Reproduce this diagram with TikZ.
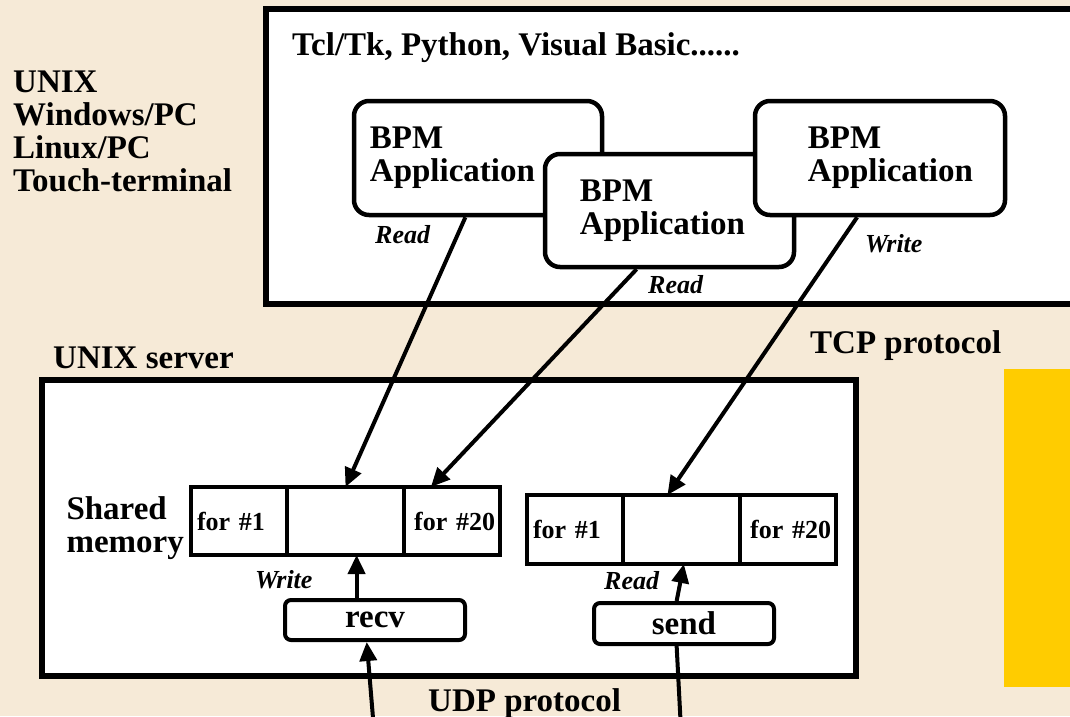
\documentclass[tikz,border=0pt]{standalone}
\usepackage{fontspec}
\setmainfont{Liberation Serif}
\usetikzlibrary{arrows.meta,calc,positioning}
\definecolor{parchment}{RGB}{246,234,215}
\definecolor{marker}{RGB}{255,204,0}

\begin{document}
\begin{tikzpicture}[x=1pt,y=-1pt,
  frame/.style={draw,line width=6pt,fill=white},
  appbox/.style={draw,line width=4.5pt,fill=white,rounded corners=15pt,minimum width=248pt,minimum height=114pt},
  apptext/.style={font=\fontsize{33}{33}\selectfont\bfseries,align=left,inner sep=0pt,anchor=west},
  cell/.style={draw,line width=4pt,fill=white,minimum height=68pt,outer sep=0pt,inner sep=0pt,font=\fontsize{26}{26}\selectfont\bfseries},
  lcell/.style={cell,text width=84pt,align=left},
  rcell/.style={cell,text width=86pt,align=right},
  procbox/.style={draw,line width=4pt,fill=white,rounded corners=6pt,minimum width=180pt,minimum height=40pt,font=\fontsize{33}{33}\selectfont\bfseries},
  bigtext/.style={font=\fontsize{33}{33}\selectfont\bfseries,align=left,inner sep=0pt},
  rw/.style={font=\fontsize{26}{26}\selectfont\bfseries\itshape,inner sep=0pt,anchor=base west},
  arr/.style={line width=4pt,-{Triangle[length=19pt,width=17pt]}},
  wire/.style={line width=4pt}]
  \useasboundingbox (0,0) rectangle (1070,716);
  \clip (0,0) rectangle (1070,716);
  \fill[parchment] (0,0) rectangle (1070,716);
  \fill[marker] (1004,369) rectangle (1080,687);

  % clients
  \draw[frame] (266,9) rectangle (1090,304);
  \node[bigtext,anchor=base west] (lang) at (292,55) {Tcl/Tk, Python, Visual Basic......};
  \node[bigtext,anchor=north west] (os) at (13,71) {UNIX\\Windows/PC\\Linux/PC\\Touch-terminal};
  \node[appbox,label={[apptext,xshift=18pt]west:{BPM\\Application}}] (app1) at (478,158) {};
  \node[appbox,minimum width=249pt,minimum height=113pt,label={[apptext,xshift=37pt]west:{BPM\\Application}}] (app2) at (669.5,210.5) {};
  \node[appbox,minimum width=250pt,label={[apptext,xshift=55pt]west:{BPM\\Application}}] (app3) at (880,158) {};
  \node[rw] (rd1) at (375,243) {Read};
  \node[rw] (rd2) at (648,293) {Read};
  \node[rw] (wr1) at (865,252) {Write};
  \node[bigtext,anchor=base west] (tcp) at (810,353) {TCP protocol};

  % server
  \node[bigtext,anchor=base west] (srv) at (53,368) {UNIX server};
  \draw[frame] (42,380) rectangle (856,676);
  \node[lcell,minimum width=96pt] (m1a) at (239,521) {for \#1};
  \node[cell,minimum width=117pt,right=0pt of m1a] (m1b) {};
  \node[rcell,minimum width=96pt,right=0pt of m1b] (m1c) {for \#20};
  \node[bigtext,left=7pt of m1a,yshift=-7pt] (shm) {Shared\\memory};
  \node[lcell,minimum width=96pt,minimum height=69pt] (m2a) at (575,529.5) {for \#1};
  \node[cell,minimum width=117pt,minimum height=69pt,right=0pt of m2a] (m2b) {};
  \node[rcell,minimum width=96pt,minimum height=69pt,right=0pt of m2b] (m2c) {for \#20};
  \node[procbox] (recv) at (375,620) {recv};
  \node[procbox,minimum height=41pt] (send) at (684,623.5) {send};
  \node[rw] (wr2) at (255,588) {Write};
  \node[rw] (rd3) at (604,589) {Read};
  \node[bigtext,anchor=base west] (udp) at (428,711) {UDP protocol};

  % connections
  \draw[arr] ($(app1.south west)!0.45!(app1.south east)$) -- (m1b.north);
  \draw[arr] ($(app2.south west)!0.37!(app2.south east)$) -- ($(m1c.north west)!0.28!(m1c.north east)$);
  \draw[arr] ($(app3.south west)!0.41!(app3.south east)$) -- ($(m2b.north west)!0.38!(m2b.north east)$);
  \coordinate (rtop) at ($(recv.north west)!0.4!(recv.north east)$);
  \draw[arr] (rtop) -- (rtop |- m1b.south);
  \draw[arr] ($(send.north west)!0.46!(send.north east)$) -- ($(m2b.south west)!0.52!(m2b.south east)$);
  \coordinate (udpin) at (374,730);
  \draw[arr] (udpin) -- ($(recv.south west)!0.455!(recv.south east)$);
  \coordinate (udpout) at (681,730);
  \draw[wire] ($(send.south west)!0.46!(send.south east)$) -- (udpout);
\end{tikzpicture}
\end{document}
